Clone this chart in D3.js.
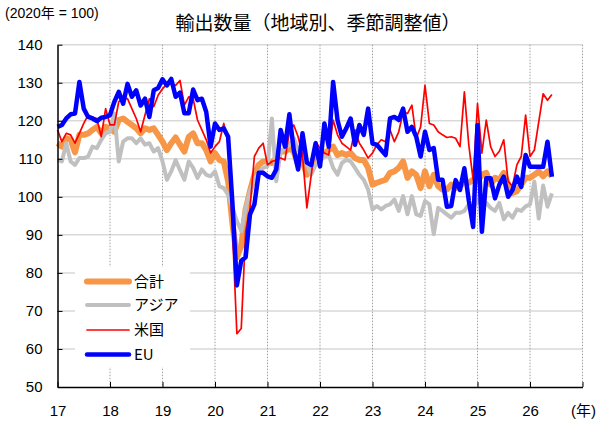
<!DOCTYPE html>
<html>
<head>
<meta charset="utf-8">
<script src="https://cdn.jsdelivr.net/npm/d3@7"></script>
<style>
  body { margin: 0; background: #fff; }
  text { font-family: "Liberation Sans", Arial, sans-serif; fill: #000; }
  .jp { font-family: "Noto Sans CJK JP", "Liberation Sans", sans-serif; }
  .mix { font-family: "Liberation Sans", "Noto Sans CJK JP", sans-serif; }
</style>
</head>
<body>
<svg id="chart" width="600" height="421"></svg>
<script>
// monthly values, Jan 2017 .. Jun 2026 (2020 = 100)
var totalVals = [
  114.1, 113.2, 115.4, 115.0, 111.7, 116.3, 116.3, 116.7, 117.6, 118.4, 116.7, 118.4,
  118.0, 117.1, 120.2, 120.6, 119.7, 118.9, 118.0, 116.7, 118.0, 117.6, 118.0, 116.3,
  114.5, 112.3, 114.1, 115.6, 113.7, 111.9, 115.8, 116.7, 114.1, 114.1, 112.3, 109.3,
  111.5, 109.7, 109.3, 104.1, 92.8, 84.1, 87.1, 96.7, 101.5, 105.8, 108.4, 109.3,
  109.3, 108.9, 110.2, 111.9, 111.9, 112.8, 111.9, 108.4, 109.3, 105.8, 108.4, 111.0,
  111.9, 111.5, 112.3, 113.2, 111.0, 111.5, 111.0, 111.5, 110.2, 109.7, 109.7, 107.6,
  103.2, 103.7, 104.1, 104.5, 106.3, 106.7, 107.6, 109.3, 105.0, 106.7, 105.8, 102.3,
  106.7, 102.8, 105.8, 102.8, 101.9, 101.9, 103.2, 102.3, 102.8, 104.1, 103.7, 104.5,
  104.1, 105.8, 106.3, 103.2, 105.0, 104.5, 106.3, 103.2, 101.0, 101.5, 103.2, 105.0,
  105.0, 105.8, 106.7, 105.4, 106.7, 105.4
];
var asiaVals = [
  109.7, 109.3, 114.1, 109.3, 108.4, 110.2, 110.2, 110.6, 113.2, 112.8, 115.0, 116.7,
  117.1, 121.9, 109.3, 114.5, 115.4, 115.4, 114.1, 115.4, 113.7, 114.1, 111.9, 112.8,
  109.3, 104.5, 106.7, 109.7, 107.0, 104.5, 109.3, 107.6, 105.0, 107.2, 105.8, 105.4,
  106.7, 102.8, 102.3, 100.6, 97.1, 93.6, 91.0, 97.1, 101.5, 104.5, 106.3, 107.6,
  108.0, 120.6, 104.1, 111.9, 112.8, 113.7, 115.4, 112.3, 112.8, 108.5, 105.8, 108.4,
  109.3, 110.6, 111.0, 107.6, 105.8, 108.9, 109.7, 109.3, 107.6, 105.8, 104.5, 101.9,
  96.7, 97.6, 96.7, 97.6, 98.0, 99.3, 96.3, 100.2, 95.4, 100.2, 95.4, 95.0,
  98.9, 98.0, 90.2, 97.1, 96.3, 95.4, 94.5, 95.8, 95.8, 96.3, 98.0, 97.1,
  98.9, 98.0, 98.4, 97.1, 96.3, 98.4, 94.1, 95.8, 94.5, 96.7, 96.3, 97.5,
  98.0, 104.0, 94.3, 103.0, 97.4, 100.9
];
var usVals = [
  117.6, 114.5, 116.7, 116.3, 114.1, 116.7, 119.3, 121.5, 121.0, 120.6, 115.8, 123.2,
  118.9, 118.9, 125.0, 125.8, 125.8, 123.2, 120.6, 117.1, 121.5, 125.8, 123.7, 126.7,
  128.4, 129.7, 129.7, 129.3, 130.6, 124.1, 126.3, 125.8, 120.2, 117.6, 115.0, 111.5,
  113.2, 114.5, 119.3, 114.1, 91.0, 64.0, 65.4, 91.0, 97.1, 110.6, 112.8, 114.1,
  108.4, 109.3, 109.7, 110.2, 109.7, 117.1, 118.9, 115.8, 111.0, 97.1, 105.8, 114.5,
  112.8, 111.5, 111.0, 120.2, 116.3, 114.1, 113.2, 112.3, 117.6, 114.1, 112.3, 110.2,
  111.5, 113.7, 115.0, 114.5, 117.6, 114.5, 117.1, 122.3, 121.9, 124.1, 115.4, 118.4,
  129.3, 119.3, 118.9, 117.1, 116.3, 115.6, 115.8, 115.4, 113.2, 127.6, 113.7, 104.5,
  124.5, 111.5, 120.2, 113.2, 110.6, 112.0, 115.0, 104.1, 102.8, 108.4, 110.6, 121.5,
  110.6, 112.3, 119.7, 127.1, 125.4, 126.9
];
var euVals = [
  118.4, 118.9, 120.6, 121.7, 121.9, 130.2, 123.2, 121.0, 120.6, 119.9, 120.8, 121.0,
  121.5, 125.0, 127.6, 124.5, 129.7, 126.3, 128.0, 124.0, 125.8, 121.0, 128.0, 128.6,
  130.9, 129.3, 131.0, 126.3, 127.4, 122.0, 122.0, 128.2, 125.4, 125.8, 122.3, 113.2,
  119.3, 117.6, 118.0, 115.8, 98.0, 76.7, 83.2, 84.1, 95.4, 98.0, 106.3, 106.3,
  105.4, 105.0, 107.2, 117.6, 113.2, 121.7, 112.4, 107.2, 116.7, 109.0, 108.4, 114.1,
  108.0, 119.3, 113.2, 130.2, 120.2, 115.8, 118.0, 120.6, 113.7, 118.9, 116.3, 123.2,
  114.0, 113.7, 112.3, 111.0, 120.6, 121.0, 120.2, 123.2, 117.1, 118.4, 115.8, 110.6,
  117.1, 112.3, 112.8, 104.5, 104.5, 97.4, 97.6, 104.4, 101.8, 107.5, 99.1, 92.1,
  118.9, 90.8, 104.9, 104.9, 99.6, 103.2, 105.3, 100.0, 101.8, 105.3, 102.6, 111.0,
  107.9, 107.9, 107.9, 107.9, 114.5, 105.3
];
var yearLabels = ["17", "18", "19", "20", "21", "22", "23", "24", "25", "26"];
var yTicks = [50, 60, 70, 80, 90, 100, 110, 120, 130, 140];
var seriesNames = ["合計", "アジア", "米国", "EU"];

var titleText = "輸出数量（地域別、季節調整値）";
var unitText = "(2020年 = 100)";
var xUnitText = "(年)";

var series = [
  {name: seriesNames[0], values: totalVals, color: "#f79646", width: 6},
  {name: seriesNames[1], values: asiaVals, color: "#c0c0c0", width: 4},
  {name: seriesNames[2], values: usVals, color: "#ff0000", width: 1.7},
  {name: seriesNames[3], values: euVals, color: "#0000ff", width: 4.5}
];

var svg = d3.select("#chart");
svg.append("rect").attr("width", 600).attr("height", 421).attr("fill", "#fff");

var x = d3.scaleLinear().domain([2017, 2027]).range([57.5, 582.5]);
var y = d3.scaleLinear().domain([50, 140]).range([387, 44.7]);
var years = d3.range(2017, 2028);

// grid
svg.append("g").selectAll("line")
  .data(yTicks.slice(1))
  .enter().append("line")
  .attr("x1", x(2017)).attr("x2", x(2027))
  .attr("y1", function(d){return y(d)}).attr("y2", function(d){return y(d)})
  .attr("stroke", "#d9d9d9").attr("stroke-width", 1.5);

svg.append("g").selectAll("line")
  .data(years.slice(1))
  .enter().append("line")
  .attr("x1", function(d){return x(d)}).attr("x2", function(d){return x(d)})
  .attr("y1", y(140)).attr("y2", y(50))
  .attr("stroke", "#a0a0a0").attr("stroke-width", 1)
  .attr("stroke-dasharray", "1.5,1.5");

// series
var line = d3.line()
  .x(function(d, i){return x(2017 + i / 12)})
  .y(function(d){return y(d)});

svg.append("g").selectAll("path")
  .data(series)
  .enter().append("path")
  .attr("d", function(s){return line(s.values)})
  .attr("fill", "none")
  .attr("stroke", function(s){return s.color})
  .attr("stroke-width", function(s){return s.width})
  .attr("stroke-linejoin", "round");

// axes
var yAxis = d3.axisLeft(y).tickValues(yTicks).tickSize(-5).tickSizeOuter(0).tickPadding(15);
var gy = svg.append("g").attr("transform", "translate(" + x(2017) + ",0)").call(yAxis);

var xAxis = d3.axisBottom(x).tickValues(years).tickSize(-5).tickSizeOuter(0).tickPadding(18)
  .tickFormat(function(d){return yearLabels[d - 2017] || ""});
var gx = svg.append("g").attr("transform", "translate(0," + y(50) + ")").call(xAxis);

[gx, gy].forEach(function(g){
  g.selectAll(".domain").attr("stroke", "#000").attr("stroke-width", 1.5);
  g.selectAll(".tick line").attr("stroke", "#000").attr("stroke-width", 1);
  g.selectAll(".tick text").attr("font-size", 15).attr("font-family", "Liberation Sans, Arial, sans-serif").attr("fill", "#000");
});

// legend
var legend = svg.append("g");
legend.append("rect").attr("x", 75).attr("y", 267).attr("width", 115).attr("height", 100).attr("fill", "#fff");
var rows = legend.selectAll("g.row")
  .data(series)
  .enter().append("g").attr("class", "row")
  .attr("transform", function(s, i){return "translate(0," + [281.5, 305, 330, 354.5][i] + ")"});
rows.append("line")
  .attr("x1", 87).attr("x2", 129)
  .attr("stroke", function(s){return s.color})
  .attr("stroke-width", function(s){return s.width})
  .attr("stroke-linecap", "round");
rows.append("text")
  .attr("class", "jp")
  .attr("x", 134).attr("dy", "0.35em")
  .attr("font-size", 15)
  .text(function(s){return s.name});

// titles
svg.append("text").attr("class", "jp").attr("x", 318).attr("y", 30)
  .attr("text-anchor", "middle").attr("font-size", 19).text(titleText);
svg.append("text").attr("class", "mix").attr("x", 5).attr("y", 18)
  .attr("font-size", 14).text(unitText);
svg.append("text").attr("class", "mix").attr("x", 596).attr("y", 416)
  .attr("text-anchor", "end").attr("font-size", 15).text(xUnitText);
</script>
</body>
</html>
